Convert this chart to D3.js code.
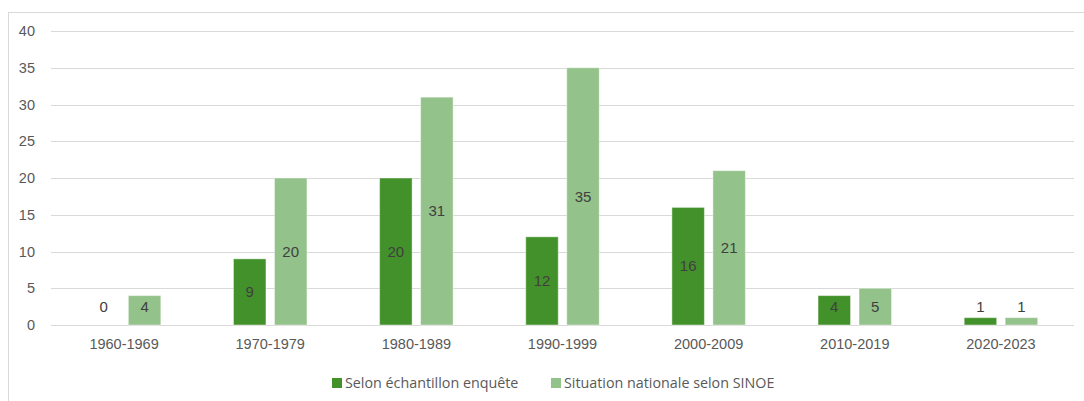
<!DOCTYPE html>
<html>
<head>
<meta charset="utf-8">
<script src="https://cdn.jsdelivr.net/npm/d3@7"></script>
<style>
  body { margin: 0; background: #fff; }
  svg { display: block; }
</style>
</head>
<body>
<div id="chart"></div>
<script>
// Data
const categories = ["1960-1969", "1970-1979", "1980-1989", "1990-1999", "2000-2009", "2010-2019", "2020-2023"];
const enquete = [0, 9, 20, 12, 16, 4, 1];
const sinoe = [4, 20, 31, 35, 21, 5, 1];
const seriesNames = ["Selon échantillon enquête", "Situation nationale selon SINOE"];
const yTicks = [0, 5, 10, 15, 20, 25, 30, 35, 40];

const colors = ["#43912a", "#93c28a"];

const W = 1084, H = 401;
const margin = { top: 31, right: 10, bottom: 76, left: 51 };
const width = W - margin.left - margin.right;
const height = H - margin.top - margin.bottom;

const svg = d3.select("#chart")
    .append("svg")
    .attr("width", W)
    .attr("height", H);

// Outer frame (extends past the window on the right and bottom)
svg.append("rect")
    .attr("x", 8.5)
    .attr("y", 12.5)
    .attr("width", W + 20)
    .attr("height", H + 20)
    .attr("fill", "none")
    .attr("stroke", "#d9d9d9");

const g = svg.append("g")
    .attr("transform", `translate(${margin.left},${margin.top})`);

// Scales
const x = d3.scaleBand()
    .domain(categories)
    .range([0, width]);

const y = d3.scaleLinear()
    .domain([0, 40])
    .range([height, 0]);

const barW = 32.5, gap = 8.5;
const font = "'Liberation Sans', Arial, sans-serif";

// Gridlines
g.append("g")
    .selectAll("line")
    .data(yTicks)
    .enter()
    .append("line")
    .attr("x1", 0)
    .attr("x2", width)
    .attr("y1", d => Math.round(y(d)) + 0.5)
    .attr("y2", d => Math.round(y(d)) + 0.5)
    .attr("stroke", "#d9d9d9")
    .attr("stroke-width", 1);

// Y axis labels
const yAxis = d3.axisLeft(y).tickValues(yTicks).tickSize(0).tickPadding(16);
g.append("g")
    .call(yAxis)
    .call(s => s.select(".domain").remove())
    .selectAll("text")
    .attr("fill", "#595959")
    .style("font-family", font)
    .style("font-size", "14.5px");

// X axis labels
const xAxis = d3.axisBottom(x).tickSize(0).tickPadding(14);
g.append("g")
    .attr("transform", `translate(0,${height})`)
    .call(xAxis)
    .call(s => s.select(".domain").remove())
    .selectAll("text")
    .attr("fill", "#595959")
    .style("font-family", font)
    .style("font-size", "14.5px");

// Bars
const series = [enquete, sinoe];
series.forEach((vals, si) => {
    const off = si === 0 ? -(barW + gap / 2) : gap / 2;
    const bars = g.append("g");
    bars.selectAll("rect")
        .data(vals)
        .enter()
        .append("rect")
        .attr("x", (d, i) => x.bandwidth() / 2 + x(categories[i]) + off)
        .attr("y", d => y(d))
        .attr("width", barW)
        .attr("height", d => y(0) - y(d))
        .attr("fill", colors[si])
        .attr("stroke", d => d > 0 ? "rgba(255,255,255,0.45)" : "none")
        .attr("stroke-width", 1);

    bars.selectAll("text")
        .data(vals)
        .enter()
        .append("text")
        .attr("x", (d, i) => x.bandwidth() / 2 + x(categories[i]) + off + barW / 2)
        .attr("y", d => Math.min((y(d) + y(0)) / 2, y(0) - 18))
        .attr("dy", "0.35em")
        .attr("text-anchor", "middle")
        .attr("fill", "#404040")
        .style("font-family", font)
        .style("font-size", "15px")
        .text(d => d);
});

// Legend
const legend = svg.append("g").attr("transform", "translate(0,383)");
const legendX = [332, 551];
seriesNames.forEach((name, i) => {
    legend.append("rect")
        .attr("x", legendX[i])
        .attr("y", -5)
        .attr("width", 10)
        .attr("height", 10)
        .attr("fill", colors[i]);
    legend.append("text")
        .attr("x", legendX[i] + 13)
        .attr("y", 0)
        .attr("dy", "0.35em")
        .attr("fill", "#595959")
        .style("font-family", "'Open Sans', sans-serif")
        .style("font-size", "14.3px")
        .text(name);
});
</script>
</body>
</html>
